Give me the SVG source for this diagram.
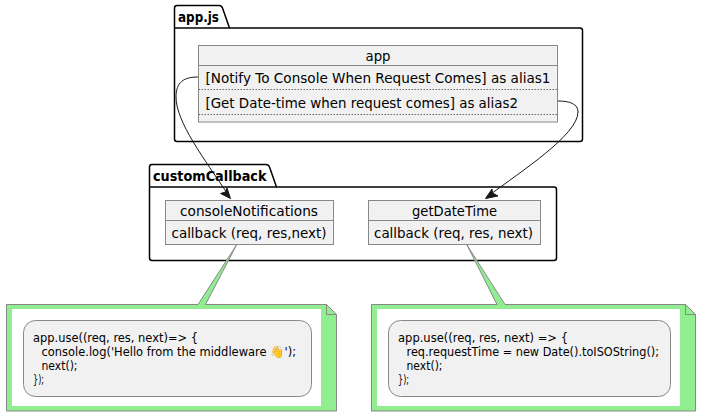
<svg xmlns="http://www.w3.org/2000/svg" width="701" height="417" viewBox="0 0 701 417">
<style>
text{font-family:"DejaVu Sans","Liberation Sans",sans-serif;fill:#000}
.pkg{fill:#fff;stroke:#000;stroke-width:1.5;stroke-linejoin:round}
.pt{font-size:14px;font-weight:700}
.box{fill:#f1f1f1;stroke:#888;stroke-width:1}
.sep{stroke:#888;stroke-width:1;fill:none}
.dot{stroke:#666;stroke-width:1;stroke-dasharray:1.5 1.5;fill:none}
.t{font-size:14px}
.note{fill:#90ee90;stroke:#888;stroke-width:1}
.inner{fill:#fff}
.code{font-size:12px}
.con{fill:none;stroke:#181818;stroke-width:1}
.head{fill:#181818;stroke:#181818;stroke-width:1}
</style>
<rect width="701" height="417" fill="#fff"/>
<g id="pkg-appjs">
<path class="pkg" d="M174.5,28 V8 Q174.5,5.5 177,5.5 H219 Q221.5,5.5 222.5,8 L229.5,28 H580 Q582.5,28 582.5,30.5 V139 Q582.5,141.5 580,141.5 H177 Q174.5,141.5 174.5,139 Z"/>
<path class="pkg" d="M174.5,28 H229.5" />
<text class="pt" x="178" y="22" textLength="41" lengthAdjust="spacingAndGlyphs">app.js</text>
</g>
<g id="pkg-customCallback">
<path class="pkg" d="M149.5,187 V167 Q149.5,164.5 152,164.5 H266 Q268.5,164.5 269.5,167 L276.5,187 H554 Q556.5,187 556.5,189.5 V258 Q556.5,260.5 554,260.5 H152 Q149.5,260.5 149.5,258 Z"/>
<path class="pkg" d="M149.5,187 H276.5"/>
<text class="pt" x="153" y="181" textLength="113.5" lengthAdjust="spacingAndGlyphs">customCallback</text>
</g>
<g id="app">
<rect class="box" x="198.5" y="45.5" width="359" height="76.5"/>
<path class="sep" d="M198.5,65.5 H557.5"/>
<path class="dot" d="M198.5,89.5 H557.5 M198.5,114.5 H557.5"/>
<text class="t" x="378" y="61" text-anchor="middle" textLength="25" lengthAdjust="spacingAndGlyphs">app</text>
<text class="t" x="205.5" y="83" textLength="345" lengthAdjust="spacingAndGlyphs">[Notify To Console When Request Comes] as alias1</text>
<text class="t" x="205.5" y="108" textLength="312.5" lengthAdjust="spacingAndGlyphs">[Get Date-time when request comes] as alias2</text>
</g>
<g id="consoleNotifications">
<rect class="box" x="165.5" y="200.5" width="168" height="44"/>
<path class="sep" d="M165.5,220.5 H333.5"/>
<text class="t" x="249" y="216" text-anchor="middle" textLength="138" lengthAdjust="spacingAndGlyphs">consoleNotifications</text>
<text class="t" x="171.5" y="238" textLength="155" lengthAdjust="spacingAndGlyphs">callback (req, res,next)</text>
</g>
<g id="getDateTime">
<rect class="box" x="368.5" y="200.5" width="172" height="44"/>
<path class="sep" d="M368.5,220.5 H540.5"/>
<text class="t" x="454.5" y="216" text-anchor="middle" textLength="85" lengthAdjust="spacingAndGlyphs">getDateTime</text>
<text class="t" x="374" y="238" textLength="159" lengthAdjust="spacingAndGlyphs">callback (req, res, next)</text>
</g>
<g id="connectors">
<path class="con" d="M198,77 C184,77 176,82 176,97 C176,122 205,160 227,193"/>
<path class="head" d="M230.5,198.5 L227,188 L225.5,192 L220.5,193.5 Z"/>
<path class="con" d="M558,101 C570,101 578,104 578,112 C578,135 520,172 491,194"/>
<path class="head" d="M485.5,198.5 L492,189 L492.5,193 L498,196 Z"/>
</g>
<g id="note1">
<path class="note" d="M6.5,304.5 H198 L236.5,245 L205.5,304.5 H326.5 L336.5,314.5 V411 H6.5 Z"/>
<path class="note" d="M326.5,304.5 V314.5 H336.5 Z"/>
<rect class="inner" x="12" y="309" width="309" height="97"/>
<rect class="box" x="23.5" y="320.5" width="288" height="76" rx="12" ry="12"/>
<text class="code" x="33" y="342" textLength="165" lengthAdjust="spacingAndGlyphs">app.use((req, res, next)=&gt; {</text>
<text class="code" x="41.5" y="356" textLength="254.5" lengthAdjust="spacingAndGlyphs">console.log('Hello from the middleware 👋');</text>
<text class="code" x="41.5" y="370" textLength="36" lengthAdjust="spacingAndGlyphs">next();</text>
<text class="code" x="33" y="384" textLength="11" lengthAdjust="spacingAndGlyphs">});</text>
</g>
<g id="note2">
<path class="note" d="M371.5,304.5 H497 L467,245 L505,304.5 H685.5 L695.5,314.5 V411 H371.5 Z"/>
<path class="note" d="M685.5,304.5 V314.5 H695.5 Z"/>
<rect class="inner" x="377" y="309" width="303" height="97"/>
<rect class="box" x="388.5" y="320.5" width="282" height="76" rx="12" ry="12"/>
<text class="code" x="398" y="342" textLength="170" lengthAdjust="spacingAndGlyphs">app.use((req, res, next) =&gt; {</text>
<text class="code" x="406.5" y="356" textLength="252.5" lengthAdjust="spacingAndGlyphs">req.requestTime = new Date().toISOString();</text>
<text class="code" x="406.5" y="370" textLength="36" lengthAdjust="spacingAndGlyphs">next();</text>
<text class="code" x="398" y="384" textLength="11" lengthAdjust="spacingAndGlyphs">});</text>
</g>
</svg>
